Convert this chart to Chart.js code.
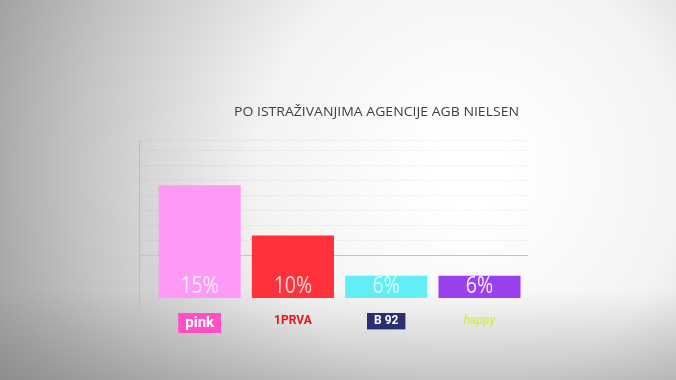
<!DOCTYPE html>
<html>
<head>
<meta charset="utf-8">
<script src="https://cdn.jsdelivr.net/npm/chart.js@4"></script>
<style>
  html, body { margin: 0; padding: 0; background: #fff; }
  #wrap { width: 676px; height: 380px; }
</style>
</head>
<body>
<div id="wrap"><canvas id="ratingChart" width="676" height="380"></canvas></div>
<script>
// data
const channels = ['pink', '1PRVA', 'B 92', 'happy'];
const shares = [15, 10, 6, 6];
const shareLabels = ['15%', '10%', '6%', '6%'];
const barBase = 3.8;
const gridValues = [8, 9.5, 11, 12.5, 14, 15.5, 17, 18.5, 19.5];
const titleText = 'PO ISTRAŽIVANJIMA AGENCIJE AGB NIELSEN';

// colors
const barColors = ['#fe9af6', '#ff313a', '#62eef4', '#9a41ef'];
const labelColors = ['rgba(255,255,255,0.8)', 'rgba(255,235,235,0.9)', 'rgba(255,255,255,0.75)', 'rgba(255,255,255,0.9)'];
const logoColors = ['#ffffff', '#e3141d', '#ffffff', '#d6ea5c'];
const logoBacks = ['#ff4fc4', 'rgba(0,0,0,0)', '#2c2e72', 'rgba(0,0,0,0)'];

// background: white glow, grey corners, floor
const backdrop = {
  id: 'backdrop',
  beforeDraw(chart) {
    const { ctx, width, height } = chart;
    ctx.save();
    const g = ctx.createRadialGradient(470, 170, 40, 470, 170, 540);
    g.addColorStop(0, '#ffffff');
    g.addColorStop(0.35, '#f3f3f3');
    g.addColorStop(0.7, '#c4c4c4');
    g.addColorStop(1, '#969696');
    ctx.fillStyle = g;
    ctx.fillRect(0, 0, width, height);
    const f = ctx.createLinearGradient(0, 290, 0, height);
    f.addColorStop(0, 'rgba(110,110,110,0)');
    f.addColorStop(1, 'rgba(110,110,110,0.35)');
    ctx.fillStyle = f;
    ctx.fillRect(0, 290, width, height - 290);
    ctx.restore();
  }
};

// title + percent text inside bars
const texts = {
  id: 'texts',
  afterDatasetsDraw(chart) {
    const { ctx } = chart;
    ctx.save();
    ctx.font = '13px "Open Sans"';
    ctx.fillStyle = '#3e3e3e';
    ctx.textBaseline = 'middle';
    const tw = ctx.measureText(titleText).width;
    const sx = 285 / tw;
    ctx.translate(234, 112);
    ctx.scale(sx, 1);
    ctx.fillText(titleText, 0, 0);
    ctx.restore();

    ctx.save();
    ctx.font = '23px "Open Sans"';
    ctx.textAlign = 'center';
    ctx.textBaseline = 'middle';
    chart.getDatasetMeta(0).data.forEach((bar, i) => {
      ctx.save();
      ctx.translate(bar.x, bar.base - 11);
      ctx.scale(0.85, 1);
      ctx.fillStyle = labelColors[i];
      ctx.fillText(shareLabels[i], 0, 0);
      ctx.restore();
    });
    ctx.restore();
  }
};

new Chart(document.getElementById('ratingChart'), {
  type: 'bar',
  data: {
    datasets: [{
      data: shares.map((v, i) => ({ x: i, y: [barBase, v] })),
      backgroundColor: barColors,
      borderWidth: 0,
      barPercentage: 0.88,
      categoryPercentage: 1
    }]
  },
  options: {
    responsive: false,
    animation: false,
    layout: { padding: { left: 139, top: 140, right: 148, bottom: 45 } },
    plugins: { legend: { display: false }, tooltip: { enabled: false }, title: { display: false } },
    scales: {
      x: {
        type: 'linear',
        offset: false,
        min: -0.65,
        max: 3.52,
        afterBuildTicks: scale => { scale.ticks = channels.map((c, i) => ({ value: i })); },
        afterFit: scale => { scale.height += 8; },
        grid: { display: false, offset: false },
        border: { display: false },
        ticks: {
          autoSkip: false,
          maxRotation: 0,
          padding: -5,
          callback: v => channels[v],
          color: c => logoColors[c.index],
          font: c => ({ family: 'Roboto', weight: 'bold', size: c.index === 0 ? 15 : 12, style: c.index === 3 ? 'italic' : 'normal' }),
          showLabelBackdrop: true,
          backdropColor: c => logoBacks[c.index],
          backdropPadding: { top: 1, bottom: 1, left: 7, right: 7 }
        }
      },
      y: {
        min: 2.5,
        max: 19.5,
        afterBuildTicks: scale => { scale.ticks = gridValues.map(v => ({ value: v })); },
        ticks: { display: false },
        grid: {
          drawTicks: false,
          color: c => c.tick && c.tick.value === 8 ? '#c4c4c4' : 'rgba(0,0,0,0.035)'
        },
        border: { display: true, color: '#bdbdbd', width: 1 }
      }
    }
  },
  plugins: [backdrop, texts]
});
</script>
</body>
</html>
